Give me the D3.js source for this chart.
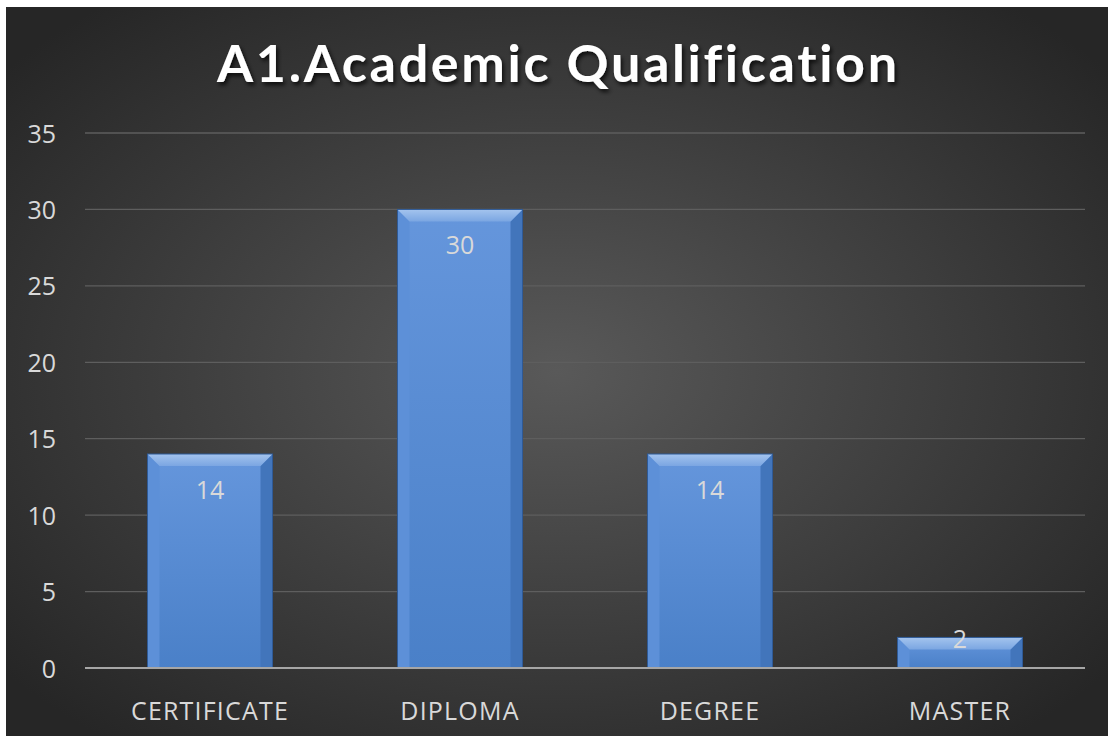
<!DOCTYPE html>
<html><head><meta charset="utf-8">
<script src="https://cdn.jsdelivr.net/npm/d3@7"></script>
<style>
html,body{margin:0;padding:0;background:#fff;}
svg{display:block;}
text{font-variant-ligatures:none;font-feature-settings:"liga" 0;}
</style></head>
<body>
<svg id="chart" width="1108" height="742"></svg>
<script>
const categories = ["CERTIFICATE", "DIPLOMA", "DEGREE", "MASTER"];
const values = [14, 30, 14, 2];
const yTicks = [0, 5, 10, 15, 20, 25, 30, 35];
const title = "A1.Academic Qualification";

const svg = d3.select("#chart");
const defs = svg.append("defs");

const bg = defs.append("radialGradient").attr("id", "bg")
  .attr("cx", "50%").attr("cy", "50%").attr("r", "65%");
bg.append("stop").attr("offset", "0%").attr("stop-color", "#595959");
bg.append("stop").attr("offset", "100%").attr("stop-color", "#262626");

const barG = defs.append("linearGradient").attr("id", "barFill")
  .attr("x1", 0).attr("y1", 0).attr("x2", 0).attr("y2", 1);
barG.append("stop").attr("offset", "0%").attr("stop-color", "#6596dc");
barG.append("stop").attr("offset", "100%").attr("stop-color", "#4a80c8");

const topG = defs.append("linearGradient").attr("id", "topFill")
  .attr("x1", 0).attr("y1", 0).attr("x2", 0).attr("y2", 1);
topG.append("stop").attr("offset", "0%").attr("stop-color", "#a4c4ee");
topG.append("stop").attr("offset", "100%").attr("stop-color", "#7ba6e2");

const filt = defs.append("filter").attr("id", "tshadow").attr("x", "-10%").attr("y", "-20%").attr("width", "120%").attr("height", "150%");
filt.append("feDropShadow").attr("dx", 2).attr("dy", 3).attr("stdDeviation", 2).attr("flood-color", "#000").attr("flood-opacity", 0.75);

svg.append("rect").attr("x", 6).attr("y", 7).attr("width", 1102).attr("height", 729).attr("fill", "url(#bg)");

svg.append("text").attr("x", 217).attr("y", 82)
  .attr("font-family", "Lato, 'Open Sans', sans-serif").attr("font-weight", 700)
  .attr("font-size", 52).attr("textLength", 680).attr("lengthAdjust", "spacing").attr("fill", "#fff")
  .style("font-variant-ligatures", "none")
  .attr("filter", "url(#tshadow)").text(title);

const x = d3.scaleBand().domain(categories).range([85, 1085]).paddingInner(0.5).paddingOuter(0.25);
const y = d3.scaleLinear().domain([0, 35]).range([668, 133]);

const font = "'Open Sans', sans-serif";
const fs = 25;

// gridlines
svg.append("g").selectAll("line").data(yTicks.filter(d => d > 0)).join("line")
  .attr("x1", 85).attr("x2", 1085).attr("y1", d => y(d)).attr("y2", d => y(d))
  .attr("stroke", "#5e5e5e").attr("stroke-width", 1.3);

// y axis labels
const yAxis = d3.axisLeft(y).tickValues(yTicks).tickSize(0).tickPadding(0);
const yg = svg.append("g").attr("transform", "translate(56,0)").call(yAxis);
yg.select(".domain").remove();
yg.selectAll("text").attr("font-family", font).attr("font-size", fs).attr("fill", "#d9d9d9").attr("dy", "0.36em");

// bars
const bw = x.bandwidth();
const bev = 12;
const bars = svg.append("g").selectAll("g").data(categories.map((c, i) => ({c, v: values[i]}))).join("g");
bars.append("rect").attr("x", d => x(d.c)).attr("y", d => y(d.v)).attr("width", bw).attr("height", d => y(0) - y(d.v)).attr("fill", "url(#barFill)");
bars.append("path").attr("d", d => {
  const x0 = x(d.c), t = y(d.v), b = y(0), bb = Math.min(bev, (b - t) / 2);
  return `M${x0},${t}L${x0 + bb},${t + bb}L${x0 + bb},${b}L${x0},${b}Z`;
}).attr("fill", "#5d90d8");
bars.append("path").attr("d", d => {
  const x1 = x(d.c) + bw, t = y(d.v), b = y(0), bb = Math.min(bev, (b - t) / 2);
  return `M${x1},${t}L${x1 - bb},${t + bb}L${x1 - bb},${b}L${x1},${b}Z`;
}).attr("fill", "#4275bb");
bars.append("path").attr("d", d => {
  const x0 = x(d.c), x1 = x0 + bw, t = y(d.v), b = y(0), bb = Math.min(bev, (b - t) / 2);
  return `M${x0},${t}L${x1},${t}L${x1 - bb},${t + bb}L${x0 + bb},${t + bb}Z`;
}).attr("fill", "url(#topFill)");
bars.append("rect").attr("x", d => x(d.c)).attr("y", d => y(d.v)).attr("width", bw).attr("height", d => y(0) - y(d.v))
  .attr("fill", "none").attr("stroke", "#2f5a96").attr("stroke-width", 1);

// value labels
bars.append("text").attr("x", d => x(d.c) + bw / 2)
  .attr("y", d => (y(0) - y(d.v)) > 60 ? y(d.v) + 45 : y(d.v) + 11)
  .attr("text-anchor", "middle").attr("font-family", font).attr("font-size", fs)
  .attr("fill", "#d9d9d9").text(d => d.v);

// x axis
svg.append("line").attr("x1", 85).attr("x2", 1085).attr("y1", y(0)).attr("y2", y(0)).attr("stroke", "#a6a6a6").attr("stroke-width", 2);
const xAxis = d3.axisBottom(x).tickSize(0).tickPadding(0);
const xg = svg.append("g").attr("transform", `translate(0,${y(0)})`).call(xAxis);
xg.select(".domain").remove();
xg.selectAll("text").attr("font-family", font).attr("font-size", fs).attr("letter-spacing", 1.2)
  .attr("fill", "#d9d9d9").attr("dy", 0).attr("y", 52);
</script>
</body></html>
